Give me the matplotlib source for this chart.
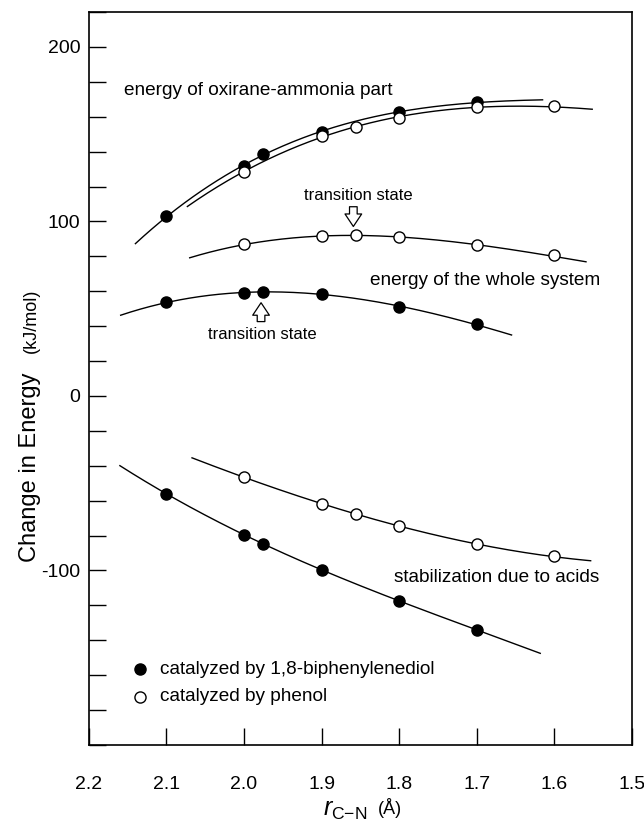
import numpy as np
import matplotlib
matplotlib.use("Agg")
import matplotlib.pyplot as plt
from matplotlib.ticker import MultipleLocator, FuncFormatter

plt.rcParams['font.family'] = ['Liberation Sans', 'DejaVu Sans']
plt.rcParams['mathtext.fontset'] = 'custom'
plt.rcParams['mathtext.rm'] = 'Liberation Sans'
plt.rcParams['mathtext.it'] = 'Liberation Sans:italic'
plt.rcParams['axes.unicode_minus'] = False

# marker data (r_C-N in Angstrom, energy in kJ/mol)
r_bip = [2.1, 2.0, 1.975, 1.9, 1.8, 1.7]
r_phe = [2.0, 1.9, 1.855, 1.8, 1.7, 1.6]

part_bip = [103, 132, 138.5, 151.5, 162.5, 168.5]
part_phe = [128.5, 149, 154, 159.5, 165.5, 166]
whole_bip = [54, 59, 59.5, 58.5, 51, 41.5]
whole_phe = [87, 91.5, 92, 91, 86.5, 80.5]
stab_bip = [-56, -79.5, -85, -99.5, -117.5, -134]
stab_phe = [-46.5, -62, -67.5, -74.5, -85, -92]

# where each drawn curve starts and ends (x, y)
ends = {
    'part_bip': [(2.14, 87), (1.615, 169.5)],
    'part_phe': [(2.073, 108.5), (1.551, 164)],
    'whole_bip': [(2.159, 46), (1.655, 34.5)],
    'whole_phe': [(2.07, 79), (1.559, 76.5)],
    'stab_bip': [(2.16, -40), (1.618, -147.5)],
    'stab_phe': [(2.067, -35.5), (1.553, -94.5)],
}

fig = plt.figure(figsize=(6.44, 8.32), dpi=100)
ax = fig.add_axes([0.138, 0.1046, 0.843, 0.881])


def draw(key, xs, ys, filled):
    e = ends[key]
    cx = [e[0][0]] + xs + [e[1][0]]
    cy = [e[0][1]] + ys + [e[1][1]]
    coef = np.polyfit(cx, cy, 3)
    xx = np.linspace(e[0][0], e[1][0], 200)
    ax.plot(xx, np.polyval(coef, xx), color='black', lw=1.0, zorder=2)
    ax.plot(xs, ys, 'o', ms=8, mec='black', mew=1.0,
            mfc='black' if filled else 'white', zorder=3)


draw('part_bip', r_bip, part_bip, True)
draw('part_phe', r_phe, part_phe, False)
draw('whole_bip', r_bip, whole_bip, True)
draw('whole_phe', r_phe, whole_phe, False)
draw('stab_bip', r_bip, stab_bip, True)
draw('stab_phe', r_phe, stab_phe, False)

ax.set_xlim(2.2, 1.5)
ax.set_ylim(-200, 220)
ax.xaxis.set_major_locator(MultipleLocator(0.1))
ax.yaxis.set_major_locator(MultipleLocator(100))
ax.yaxis.set_minor_locator(MultipleLocator(20))
ax.xaxis.set_major_formatter(matplotlib.ticker.FormatStrFormatter('%.1f'))
ax.yaxis.set_major_formatter(FuncFormatter(lambda v, p: '' if v < -150 else '%d' % v))
ax.tick_params(axis='both', which='both', direction='in', length=12, width=1,
               labelsize=14)
ax.tick_params(axis='x', pad=22)
ax.tick_params(axis='y', pad=6)
ax.tick_params(top=False, right=False)
for s in ax.spines.values():
    s.set_linewidth(1.2)

fs = 13.7
ax.text(2.155, 175, 'energy of oxirane-ammonia part', fontsize=fs, va='center')
ax.text(1.838, 66, 'energy of the whole system', fontsize=fs, va='center')
ax.text(1.806, -104, 'stabilization due to acids', fontsize=fs, va='center')

arrow = dict(arrowstyle='simple,head_width=1.2,head_length=0.9,tail_width=0.55',
             fc='white', ec='black', lw=0.9)
ax.annotate('', xy=(1.859, 95.5), xytext=(1.859, 110), arrowprops=arrow)
ax.text(1.853, 115, 'transition state', fontsize=12, ha='center', va='center')
ax.annotate('', xy=(1.978, 55), xytext=(1.978, 41), arrowprops=arrow)
ax.text(1.976, 35, 'transition state', fontsize=12, ha='center', va='center')

# legend
ax.plot([2.134], [-156.5], 'o', ms=8, mfc='black', mec='black')
ax.plot([2.134], [-172.5], 'o', ms=8, mfc='white', mec='black')
ax.text(2.108, -156.5, 'catalyzed by 1,8-biphenylenediol', fontsize=fs, va='center')
ax.text(2.108, -172.5, 'catalyzed by phenol', fontsize=fs, va='center')

# axis titles
fig.text(0.047, 0.438, 'Change in Energy', rotation=90, fontsize=17,
         ha='center', va='center')
fig.text(0.049, 0.615, '(kJ/mol)', rotation=90, fontsize=13,
         ha='center', va='center')
fig.text(0.536, 0.027, r'$\mathit{r}_{\mathrm{C{-}N}}$', fontsize=18,
         ha='center', va='center')
fig.text(0.605, 0.029, '(Å)', fontsize=13, ha='center', va='center')

fig.savefig('out.png', dpi=100)
